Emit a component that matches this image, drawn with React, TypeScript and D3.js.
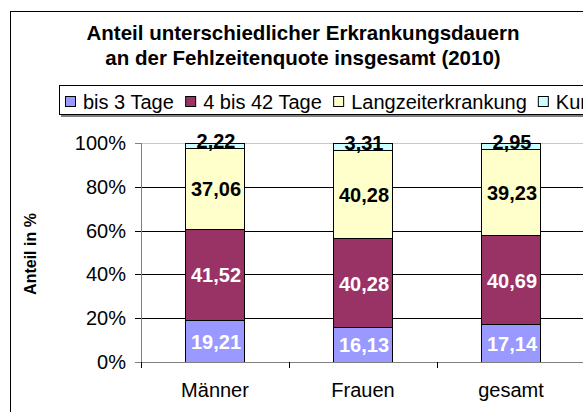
import { useMemo } from 'react';
import * as d3 from 'd3';

const categories = ['Männer', 'Frauen', 'gesamt'];
const seriesNames = ['bis 3 Tage', '4 bis 42 Tage', 'Langzeiterkrankung', 'Kur'];
const bis3Tage = [19.21, 16.13, 17.14];
const bis42Tage = [41.52, 40.28, 40.69];
const langzeit = [37.06, 40.28, 39.23];
const kur = [2.22, 3.31, 2.95];
const yTicks = [0, 0.2, 0.4, 0.6, 0.8, 1];

const COLORS = ['#9999ff', '#993366', '#ffffcc', '#ccffff'];
const LABEL_COLORS = ['#ffffff', '#ffffff', '#000000', '#000000'];
const FONT = '"Liberation Sans", Arial, sans-serif';

const W = 583;
const H = 412;
const plot = { left: 141, top: 143, bottom: 362, right: 585 };

const fmt = (v: number) => v.toFixed(2).replace('.', ',');

function measure(text: string, font: string) {
  const ctx = document.createElement('canvas').getContext('2d');
  if (!ctx) return text.length * 10;
  ctx.font = font;
  return ctx.measureText(text).width;
}

export default function App() {
  const rows = categories.map((c, i) => ({
    cat: c,
    s0: bis3Tage[i],
    s1: bis42Tage[i],
    s2: langzeit[i],
    s3: kur[i],
  }));
  const keys = ['s0', 's1', 's2', 's3'];

  const stacked = d3
    .stack<any>()
    .keys(keys)
    .order(d3.stackOrderNone)
    .offset(d3.stackOffsetExpand)(rows);

  const x = d3
    .scaleBand()
    .domain(categories)
    .range([plot.left, plot.right])
    .paddingInner(0.6)
    .paddingOuter(0.3);

  const y = d3.scaleLinear().domain([0, 1]).range([plot.bottom, plot.top]);

  // legend layout from measured text widths
  const legendItems = useMemo(() => {
    let cx = 65;
    return seriesNames.map((name, i) => {
      const item = { name, color: COLORS[i], mx: cx, tx: cx + 18 };
      cx = item.tx + measure(name, `20px ${FONT}`) + 11;
      return item;
    });
  }, []);

  const boundaries = [plot.left, ...categories.map((c) => (x(c) ?? 0) + x.bandwidth() + (x.step() * 0.6) / 2)];

  return (
    <svg
      width={W}
      height={H}
      style={{ position: 'absolute', left: 0, top: 0, background: '#fff', fontFamily: FONT }}
    >
      <rect x={0} y={0} width={W} height={H} fill="#fff" />
      {/* chart area border (cut off right and bottom) */}
      <rect x={10.5} y={11.5} width={W + 20} height={H + 20} fill="none" stroke="#000" strokeWidth={1} />

      <text x={303} y={40} textAnchor="middle" fontSize={20.5} fontWeight="bold" fill="#000">
        Anteil unterschiedlicher Erkrankungsdauern
      </text>
      <text x={303} y={65} textAnchor="middle" fontSize={20.5} fontWeight="bold" fill="#000">
        an der Fehlzeitenquote insgesamt (2010)
      </text>

      {/* legend */}
      <rect x={61} y={87} width={W} height={30} fill="#808080" />
      <rect x={59.5} y={85.5} width={W} height={29} fill="#fff" stroke="#000" strokeWidth={1} />
      {legendItems.map((d) => (
        <g key={d.name}>
          <rect x={d.mx + 0.5} y={96.5} width={10} height={10} fill={d.color} stroke="#000" strokeWidth={1} />
          <text x={d.tx} y={108.5} fontSize={20} fill="#000">
            {d.name}
          </text>
        </g>
      ))}

      {/* gridlines */}
      {yTicks.map((t) => (
        <line
          key={t}
          x1={plot.left}
          x2={W}
          y1={Math.round(y(t)) + 0.5}
          y2={Math.round(y(t)) + 0.5}
          stroke={t === 1 ? '#c8c8c8' : t === 0 ? 'none' : '#000'}
          strokeWidth={1}
        />
      ))}

      {/* y axis */}
      <line x1={plot.left + 0.5} x2={plot.left + 0.5} y1={plot.top} y2={plot.bottom + 6} stroke="#808080" />
      {yTicks.map((t) => (
        <g key={t}>
          <line
            x1={plot.left - 6}
            x2={plot.left}
            y1={Math.round(y(t)) + 0.5}
            y2={Math.round(y(t)) + 0.5}
            stroke={t === 0 || t === 1 ? '#808080' : '#000'}
          />
          <text x={126} y={y(t) + 7} textAnchor="end" fontSize={20} fill="#000">
            {`${Math.round(t * 100)}%`}
          </text>
        </g>
      ))}
      <text
        transform={`translate(36,254) rotate(-90)`}
        textAnchor="middle"
        fontSize={16}
        fontWeight="bold"
        fill="#000"
      >
        Anteil in %
      </text>

      {/* bars */}
      {stacked.map((layer, si) => (
        <g key={layer.key}>
          {layer.map((d, ci) => {
            const x0 = Math.round(x(categories[ci]) ?? 0) + 0.5;
            const y0 = Math.round(y(d[1])) + 0.5;
            const y1 = Math.round(y(d[0])) + 0.5;
            return (
              <rect
                key={ci}
                x={x0}
                y={y0}
                width={Math.round(x.bandwidth())}
                height={y1 - y0}
                fill={COLORS[si]}
                stroke="#000"
                strokeWidth={1}
              />
            );
          })}
        </g>
      ))}

      {/* x axis */}
      <line x1={plot.left} x2={W} y1={plot.bottom + 0.5} y2={plot.bottom + 0.5} stroke="#808080" />
      {boundaries.map((b, i) => (
        <line key={i} x1={Math.round(b) + 0.5} x2={Math.round(b) + 0.5} y1={plot.bottom} y2={plot.bottom + 6} stroke="#000" />
      ))}
      {categories.map((c) => (
        <text key={c} x={(x(c) ?? 0) + x.bandwidth() / 2} y={397} textAnchor="middle" fontSize={20} fill="#000">
          {c}
        </text>
      ))}

      {/* data labels */}
      {stacked.map((layer, si) => (
        <g key={`l-${layer.key}`}>
          {layer.map((d, ci) => {
            const raw = [bis3Tage, bis42Tage, langzeit, kur][si][ci];
            const mid = (y(d[0]) + y(d[1])) / 2;
            return (
              <text
                key={ci}
                x={(x(categories[ci]) ?? 0) + x.bandwidth() / 2 + 1}
                y={mid + 7 + (si === 3 ? -4 : 1)}
                textAnchor="middle"
                fontSize={20}
                fontWeight="bold"
                fill={LABEL_COLORS[si]}
              >
                {fmt(raw)}
              </text>
            );
          })}
        </g>
      ))}
    </svg>
  );
}
